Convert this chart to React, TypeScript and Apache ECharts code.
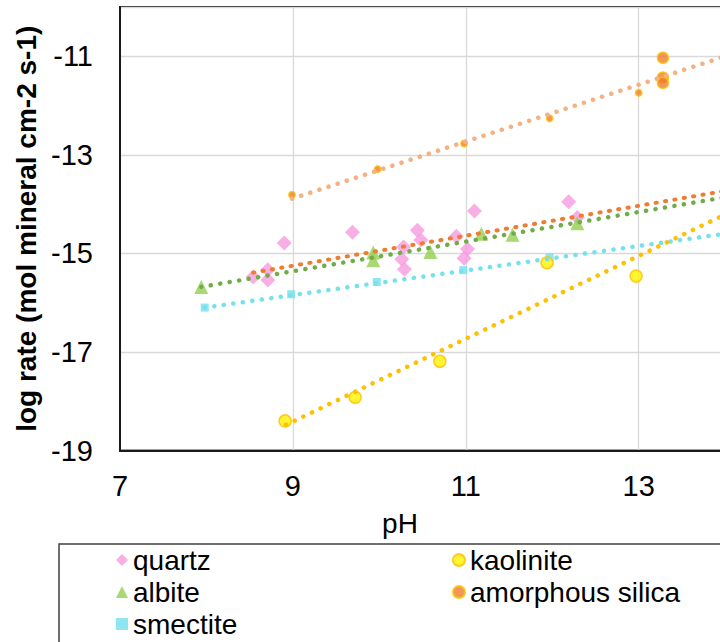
import React, { useEffect, useRef } from "react";
import * as echarts from "echarts";

// ---- data (pH, log rate) ----
const quartz: [number, number][] = [
  [8.54, -15.48], [8.71, -15.33], [8.71, -15.54], [8.9, -14.79], [9.69, -14.57],
  [10.28, -14.87], [10.26, -15.12], [10.29, -15.32], [10.44, -14.53], [10.48, -14.73],
  [10.89, -14.65], [11.1, -14.14], [11.02, -14.91], [10.98, -15.1], [12.19, -13.95],
  [12.29, -14.27],
];
const albite: [number, number][] = [
  [7.94, -15.68], [9.93, -14.98], [9.93, -15.14], [10.59, -14.97], [11.18, -14.6],
  [11.54, -14.62], [12.29, -14.39],
];
const smectite: [number, number][] = [
  [7.98, -16.1], [8.98, -15.83], [9.97, -15.58], [10.97, -15.34], [11.97, -15.08],
];
const kaolinite: [number, number][] = [
  [8.91, -18.4], [9.72, -17.92], [10.7, -17.19], [11.94, -15.19], [12.97, -15.46],
];
const amorphousSilica: [number, number][] = [
  [8.99, -13.81], [9.98, -13.29], [10.98, -12.77], [11.97, -12.26], [13.0, -11.74],
  [13.28, -11.03], [13.28, -11.43], [13.28, -11.54],
];
// trendline end points (start, forecast end)
const quartzTrend: [number, number][] = [[8.54, -15.39], [14, -13.73]];
const albiteTrend: [number, number][] = [[7.94, -15.68], [14, -13.86]];
const smectiteTrend: [number, number][] = [[7.98, -16.1], [14, -14.6]];
const kaoliniteTrend: [number, number][] = [[8.92, -18.48], [14, -14.21]];
const amorphousTrend: [number, number][] = [[8.99, -13.89], [14, -11.0]];

const legendCol1 = ["quartz", "albite", "smectite"];
const legendCol2 = ["kaolinite", "amorphous silica"];

const FONT = "'Liberation Sans', Arial, sans-serif";

export default function App() {
  const ref = useRef<HTMLDivElement>(null);
  useEffect(() => {
    if (!ref.current) return;
    const chart = echarts.init(ref.current, undefined, { renderer: "svg" });
    const dots = (color: string, dash: number[] = [0.1, 9.5], width = 4.5) => ({
      type: "line" as const,
      showSymbol: false,
      symbol: "none",
      silent: true,
      z: 3,
      lineStyle: { color, width, type: dash, cap: "round" as const },
    });
    chart.setOption({
      animation: false,
      backgroundColor: "#fff",
      textStyle: { fontFamily: FONT },
      grid: {
        left: 120,
        top: 7,
        width: 691.6,
        height: 443.5,
        show: true,
        borderColor: "#1a1a1a",
        borderWidth: 2,
        containLabel: false,
        outerBoundsMode: "none",
      },
      xAxis: {
        type: "value",
        min: 7,
        max: 15,
        interval: 2,
        axisLine: { show: true, lineStyle: { color: "#1a1a1a", width: 2 } },
        axisTick: { show: false },
        splitLine: { show: true, lineStyle: { color: "#d9d9d9", width: 1.3 } },
        axisLabel: { color: "#000", fontSize: 29, margin: 21, showMaxLabel: false, fontFamily: FONT },
      },
      yAxis: {
        type: "value",
        min: -19,
        max: -10,
        interval: 2,
        name: "log rate (mol mineral cm-2 s-1)",
        nameLocation: "middle",
        nameGap: 76,
        nameTextStyle: { color: "#000", fontSize: 28, fontWeight: "bold", fontFamily: FONT },
        axisLine: { show: true, lineStyle: { color: "#1a1a1a", width: 2 } },
        axisTick: { show: false },
        splitLine: { show: true, lineStyle: { color: "#d9d9d9", width: 1.3 } },
        axisLabel: { color: "#000", fontSize: 29, margin: 27, showMaxLabel: false, fontFamily: FONT },
      },
      legend: [
        {
          data: legendCol1,
          orient: "vertical",
          left: 111,
          top: 540,
          itemWidth: 12,
          itemHeight: 12,
          itemGap: 2,
          selectedMode: false,
          textStyle: { color: "#000", fontSize: 28, lineHeight: 30, fontFamily: FONT },
        },
        {
          data: legendCol2,
          orient: "vertical",
          left: 447,
          top: 540,
          itemWidth: 12,
          itemHeight: 12,
          itemGap: 2,
          selectedMode: false,
          textStyle: { color: "#000", fontSize: 28, lineHeight: 30, fontFamily: FONT },
        },
      ],
      graphic: [
        {
          type: "rect",
          z: -1,
          shape: { x: 59, y: 544, width: 900, height: 300 },
          style: { fill: "none", stroke: "#404040", lineWidth: 1.5 },
        },
        {
          type: "text",
          x: 400,
          y: 523,
          style: {
            text: "pH",
            fill: "#000",
            font: `28px ${FONT}`,
            align: "center",
            verticalAlign: "middle",
          },
        },
      ],
      series: [
        {
          name: "quartz",
          type: "scatter",
          symbol: "diamond",
          symbolSize: 15,
          itemStyle: { color: "#f69bde" },
          data: quartz,
        },
        {
          name: "albite",
          type: "scatter",
          symbol: "triangle",
          symbolSize: 14,
          itemStyle: { color: "#92d050" },
          data: albite,
        },
        {
          name: "smectite",
          type: "scatter",
          symbol: "rect",
          symbolSize: 8,
          itemStyle: { color: "#72e0ee" },
          data: smectite,
        },
        {
          name: "kaolinite",
          type: "scatter",
          symbol: "circle",
          symbolSize: 12,
          itemStyle: { color: "#fff200", borderColor: "#ffc000", borderWidth: 1.5 },
          data: kaolinite,
        },
        {
          name: "amorphous silica",
          type: "scatter",
          symbol: "circle",
          symbolSize: (_v: any, p: any) => (p.dataIndex >= 5 ? 11 : 6.5),
          itemStyle: { color: "#ed7d31", borderColor: "#ffc000", borderWidth: 1.5 },
          data: amorphousSilica,
        },
        { ...dots("#ed7d31", [1.2, 8.3], 4), name: "quartz trend", data: quartzTrend },
        { ...dots("#70ad47"), name: "albite trend", data: albiteTrend },
        { ...dots("#75e1ee"), name: "smectite trend", data: smectiteTrend },
        { ...dots("#ffc000"), name: "kaolinite trend", data: kaoliniteTrend },
        { ...dots("#f4b183"), name: "amorphous trend", data: amorphousTrend },
      ],
    });
    return () => chart.dispose();
  }, []);
  return (
    <div
      style={{
        position: "fixed",
        left: 0,
        top: 0,
        width: 720,
        height: 642,
        overflow: "hidden",
        background: "#fff",
      }}
    >
      <div ref={ref} style={{ width: 900, height: 700 }} />
    </div>
  );
}
